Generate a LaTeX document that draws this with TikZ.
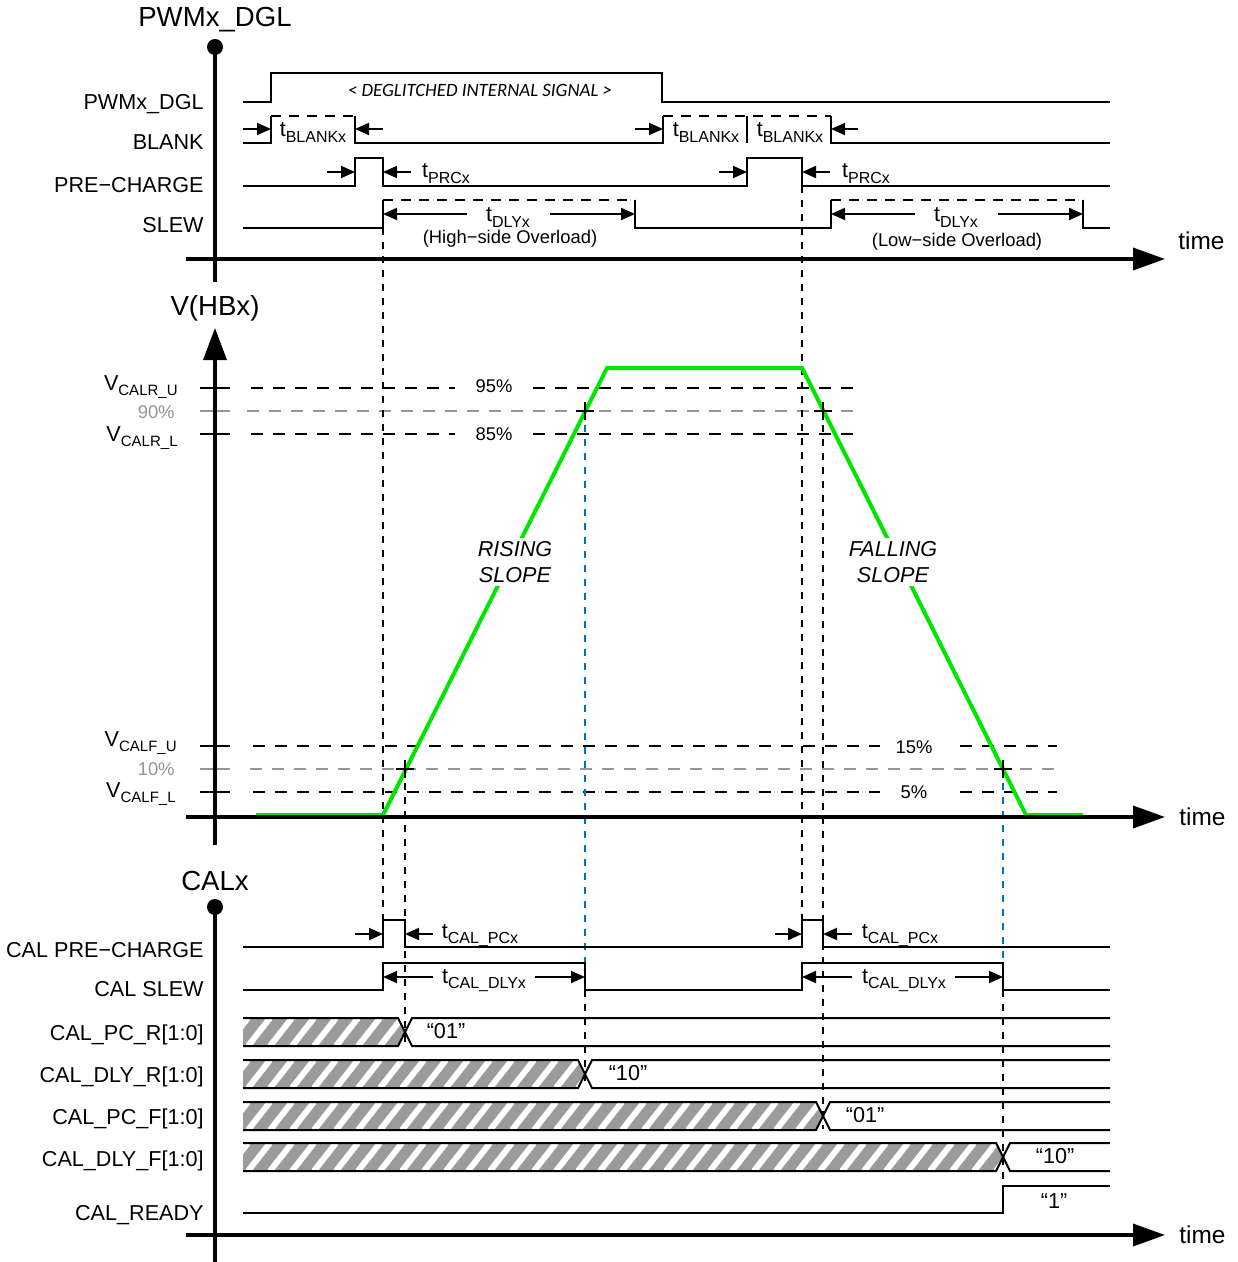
\documentclass[tikz,border=0pt]{standalone}
\usepackage{fontspec}
\setmainfont{Liberation Sans}
\newfontfamily\calfont{Carlito}
\usepackage{tikz}
\usetikzlibrary{positioning}
\usetikzlibrary{arrows.meta}

\definecolor{slopegreen}{RGB}{0,230,0}
\definecolor{guideblue}{RGB}{0,112,192}
\definecolor{hatchgray}{RGB}{155,155,155}
\definecolor{refgray}{RGB}{150,150,150}

\newcommand\lowtext[2][8]{\raisebox{-0.45ex}{\fontsize{#1}{#1}\selectfont #2}}

\begin{document}
\begin{tikzpicture}[x=0.5pt,y=-0.5pt,
    every node/.style={inner sep=0pt},
    sig/.style={line width=1pt},
    hidash/.style={line width=1pt,dash pattern=on 5pt off 4pt},
    axisline/.style={line width=1.8pt},
    bigtip/.style={line width=1.8pt,-{Triangle[length=16pt,width=11pt]}},
    dimtip/.style={line width=1pt,-{Triangle[length=7pt,width=6pt]}},
    lvline/.style={line width=0.9pt,dash pattern=on 6pt off 5pt},
    vguide/.style={line width=0.9pt,dash pattern=on 3.5pt off 3.5pt},
    siglbl/.style={anchor=base east,font=\fontsize{10.8}{12}\selectfont},
    ttl/.style={anchor=base,font=\fontsize{13.8}{16}\selectfont},
    tlbl/.style={anchor=base,font=\fontsize{10.8}{12}\selectfont},
    pct/.style={anchor=base,font=\fontsize{9.2}{10}\selectfont},
    timelbl/.style={font=\fontsize{12.2}{14}\selectfont},
    slopetxt/.style={align=center,fill=white,inner sep=1.5pt,font=\itshape\fontsize{10.8}{13}\selectfont}]
  \useasboundingbox (0,0) rectangle (1237,1262);

  % PWMx_DGL group
  \node (PWMt) [ttl] at (215,27) {PWMx\_DGL};
  \fill (215,47) circle (4pt);
  \draw[axisline] (215,47) -- (215,282);
  \draw[bigtip] (186,259) -- (1165,259);
  \node (time1) [timelbl,anchor=base west] at (1178,250) {time};

  \node (Lpwm)   [siglbl] at (204,110) {PWMx\_DGL};
  \node (Lblank) [siglbl] at (204,150) {BLANK};
  \node (Lpre)   [siglbl] at (204,193) {PRE−CHARGE};
  \node (Lslew)  [siglbl] at (204,233) {SLEW};

  \draw[sig] (243,102) -- (271,102) -- (271,73) -- (662,73) -- (662,102) -- (1110,102);
  \node (DGL) [anchor=base,font=\calfont\itshape\fontsize{9.4}{10}\selectfont] at (480,97) {< DEGLITCHED INTERNAL SIGNAL >};

  \draw[sig] (243,143) -- (271,143) -- (271,116);
  \draw[hidash] (271,116) -- (355,116);
  \draw[sig] (355,116) -- (355,143) -- (663,143) -- (663,116);
  \draw[hidash] (663,116) -- (831,116);
  \draw[sig] (831,116) -- (831,143) -- (1110,143);
  \draw[sig] (747,116) -- (747,143);
  \draw[dimtip] (243,129) -- (271,129);
  \draw[dimtip] (383,129) -- (355,129);
  \draw[dimtip] (635,129) -- (663,129);
  \draw[dimtip] (858,129) -- (831,129);
  \node (tB1) [tlbl] at (313,137) {t\lowtext{BLANKx}};
  \node (tB2) [tlbl] at (706,137) {t\lowtext{BLANKx}};
  \node (tB3) [tlbl] at (790,137) {t\lowtext{BLANKx}};

  \draw[sig] (243,186) -- (355,186) -- (355,158) -- (383,158) -- (383,186) -- (747,186)
    -- (747,158) -- (802,158) -- (802,186) -- (1110,186);
  \draw[dimtip] (327,172) -- (355,172);
  \draw[dimtip] (411,172) -- (383,172);
  \draw[dimtip] (719,172) -- (747,172);
  \draw[dimtip] (830,172) -- (802,172);
  \node (tP1) [tlbl] at (446,178) {t\lowtext{PRCx}};
  \node (tP2) [tlbl] at (866,178) {t\lowtext{PRCx}};

  \draw[sig] (243,228) -- (383,228) -- (383,200);
  \draw[hidash] (383,200) -- (635,200);
  \draw[sig] (635,200) -- (635,228) -- (831,228) -- (831,200);
  \draw[hidash] (831,200) -- (1083,200);
  \draw[sig] (1083,200) -- (1083,228) -- (1110,228);
  \draw[dimtip] (467,214) -- (383,214);
  \draw[dimtip] (550,214) -- (635,214);
  \draw[dimtip] (915,214) -- (831,214);
  \draw[dimtip] (998,214) -- (1083,214);
  \node (tD1) [tlbl] at (508,222) {t\lowtext{DLYx}};
  \node (tD2) [tlbl] at (956,222) {t\lowtext{DLYx}};
  \node (HSO) [pct] at (510,244) {(High−side Overload)};
  \node (LSO) [pct] at (957,247) {(Low−side Overload)};

  % V(HBx) group
  \node (VHBt) [ttl] at (215,316) {V(HBx)};
  \foreach \y in {388,434,746,792}
    \draw[sig] (200,\y) -- (230,\y);
  \foreach \y in {411,769}
    \draw[sig,refgray] (200,\y) -- (230,\y);
  \node (VRU) [anchor=base east,font=\fontsize{10.8}{12}\selectfont] at (178,390) {V\lowtext[7.5]{CALR\_U}};
  \node (VRL) [anchor=base east,font=\fontsize{10.8}{12}\selectfont] at (178,441) {V\lowtext[7.5]{CALR\_L}};
  \node (VFU) [anchor=base east,font=\fontsize{10.8}{12}\selectfont] at (177,746) {V\lowtext[7.5]{CALF\_U}};
  \node (VFL) [anchor=base east,font=\fontsize{10.8}{12}\selectfont] at (176,797) {V\lowtext[7.5]{CALF\_L}};
  \node (P90) [pct,anchor=base east,refgray] at (175,418) {90\%};
  \node (P10) [pct,anchor=base east,refgray] at (175,775) {10\%};

  \draw[lvline] (251,388) -- (455,388) (533,388) -- (860,388);
  \draw[lvline,refgray] (247,411) -- (860,411);
  \draw[lvline] (251,434) -- (455,434) (533,434) -- (860,434);
  \draw[lvline] (253,746) -- (880,746) (960,746) -- (1057,746);
  \draw[lvline,refgray] (250,769) -- (1057,769);
  \draw[lvline] (253,792) -- (880,792) (960,792) -- (1057,792);
  \node (P95) [pct] at (494,393) {95\%};
  \node (P85) [pct] at (494,440) {85\%};
  \node (P15) [pct] at (914,753) {15\%};
  \node (P05) [pct] at (914,798) {5\%};

  % guides
  \draw[vguide] (383,228) -- (383,920);
  \draw[vguide] (802,186) -- (802,920);
  \draw[vguide] (405,769) -- (405,1046);
  \draw[vguide,guideblue] (585,411) -- (585,963);
  \draw[vguide] (585,990) -- (585,1088);
  \draw[vguide] (823,411) -- (823,1129);
  \draw[vguide,guideblue] (1003,769) -- (1003,963);
  \draw[vguide] (1003,990) -- (1003,1186);

  \draw[slopegreen,line width=2pt] (256,815) -- (383,815) -- (607,368) -- (802,368) -- (1026,815) -- (1083,815);
  \draw[axisline,-{Triangle[length=16pt,width=11.5pt]}] (215,845) -- (215,328);
  \draw[bigtip] (186,817) -- (1165,817);
  \coordinate (E2) at (1165,817);
  \node (time2) [timelbl,right=7pt of E2] {time};

  \foreach \x/\y in {405/769,585/411,823/411,1003/769}
    \draw[sig] (\x-9,\y) -- (\x+9,\y) (\x,\y-9) -- (\x,\y+9);
  \node (RISE) [slopetxt] at (515,562) {RISING\\SLOPE};
  \node (FALL) [slopetxt] at (893,562) {FALLING\\SLOPE};

  % CALx group
  \node (CALt) [ttl] at (215,890) {CALx};
  \fill (215,907) circle (4pt);
  \draw[axisline] (215,907) -- (215,1262);
  \draw[bigtip] (186,1235) -- (1165,1235);
  \coordinate (E3) at (1165,1235);
  \node (time3) [timelbl,right=7pt of E3] {time};

  \node (Lcpre)  [siglbl] at (204,957) {CAL PRE−CHARGE};
  \node (Lcslew) [siglbl] at (204,996) {CAL SLEW};
  \node (Lpcr)   [siglbl] at (204,1040) {CAL\_PC\_R[1:0]};
  \node (Ldlyr)  [siglbl] at (204,1082) {CAL\_DLY\_R[1:0]};
  \node (Lpcf)   [siglbl] at (204,1124) {CAL\_PC\_F[1:0]};
  \node (Ldlyf)  [siglbl] at (204,1166) {CAL\_DLY\_F[1:0]};
  \node (Lrdy)   [siglbl] at (204,1220) {CAL\_READY};

  \draw[sig] (243,947) -- (383,947) -- (383,920) -- (405,920) -- (405,947) -- (802,947)
    -- (802,920) -- (823,920) -- (823,947) -- (1110,947);
  \draw[dimtip] (355,934) -- (383,934);
  \draw[dimtip] (433,934) -- (405,934);
  \draw[dimtip] (775,934) -- (802,934);
  \draw[dimtip] (852,934) -- (823,934);
  \node (tC1) [tlbl] at (480,938) {t\lowtext{CAL\_PCx}};
  \node (tC2) [tlbl] at (900,938) {t\lowtext{CAL\_PCx}};

  \draw[sig] (243,990) -- (383,990) -- (383,963) -- (585,963) -- (585,990) -- (802,990)
    -- (802,963) -- (1003,963) -- (1003,990) -- (1110,990);
  \draw[dimtip] (433,977) -- (383,977);
  \draw[dimtip] (535,977) -- (585,977);
  \draw[dimtip] (852,977) -- (802,977);
  \draw[dimtip] (955,977) -- (1003,977);
  \node (tL1) [tlbl] at (484,983) {t\lowtext{CAL\_DLYx}};
  \node (tL2) [tlbl] at (904,983) {t\lowtext{CAL\_DLYx}};

  \foreach \yt/\xc/\lx/\val [count=\i] in {1018/405/446/01,1060/585/628/10,1102/823/865/01,1143/1003/1055/10} {
    \begin{scope}
      \clip (243,\yt) -- (\xc-7,\yt) -- (\xc,\yt+14) -- (\xc-7,\yt+28) -- (243,\yt+28) -- cycle;
      \fill[hatchgray] (243,\yt) rectangle (\xc,\yt+28);
      \foreach \s in {226,248,...,1006}
        \draw[white,line width=3pt] (\s,\yt+28) -- (\s+22,\yt);
    \end{scope}
    \draw[sig] (243,\yt) -- (\xc-7,\yt) -- (\xc+7,\yt+28) -- (1110,\yt+28);
    \draw[sig] (243,\yt+28) -- (\xc-7,\yt+28) -- (\xc+7,\yt) -- (1110,\yt);
    \node (Bus\i) [tlbl] at (\lx,\yt+20) {“\val”};
  }

  \draw[sig] (243,1213) -- (1003,1213) -- (1003,1186) -- (1110,1186);
  \node (Rdy) [tlbl] at (1054,1208) {“1”};
\end{tikzpicture}
\end{document}
